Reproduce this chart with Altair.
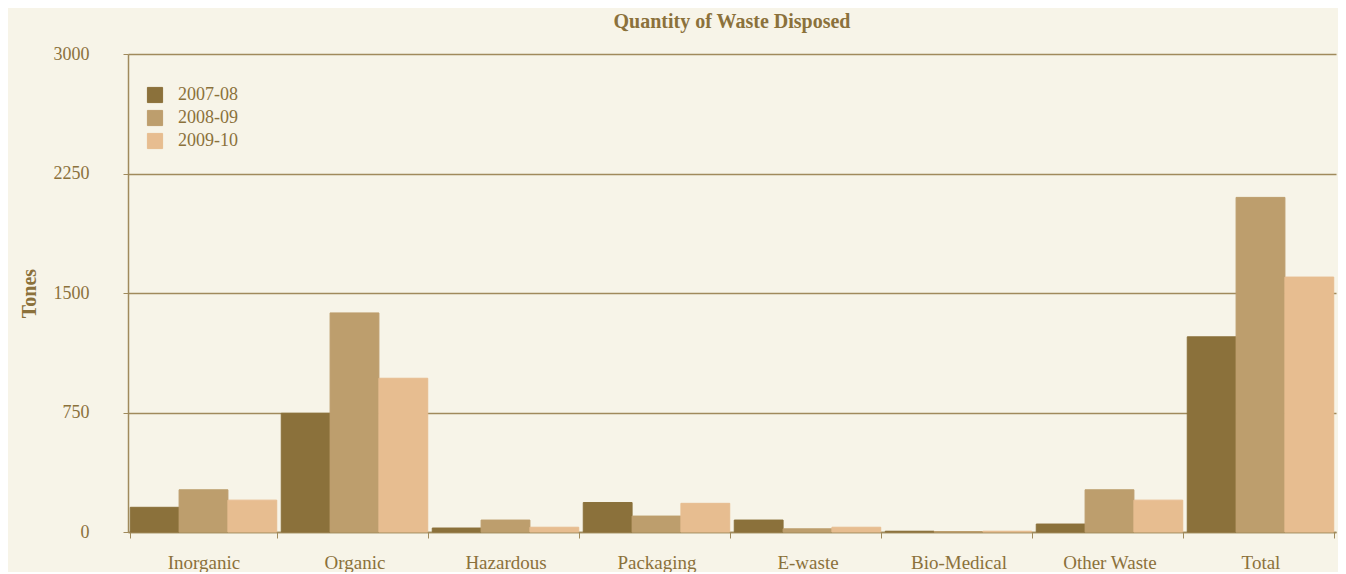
import altair as alt
import pandas as pd

categories = ["Inorganic", "Organic", "Hazardous", "Packaging", "E-waste",
              "Bio-Medical", "Other Waste", "Total"]
years = ["2007-08", "2008-09", "2009-10"]
v_2007_08 = [155, 745, 25, 185, 75, 5, 50, 1225]
v_2008_09 = [265, 1375, 75, 100, 20, 3, 265, 2100]
v_2009_10 = [200, 965, 30, 180, 30, 5, 200, 1600]
y_ticks = [0, 750, 1500, 2250, 3000]
colors = ["#8B713B", "#BD9E6D", "#E7BD90"]

rows = []
for yr, vals in zip(years, [v_2007_08, v_2008_09, v_2009_10]):
    for c, v in zip(categories, vals):
        rows.append({"category": c, "year": yr, "value": v})
df = pd.DataFrame(rows)

TEXT = "#8B713B"
GRID = "#A08A5C"
FONT = "Liberation Serif"

chart = alt.Chart(df).mark_bar(strokeWidth=1).encode(
    x=alt.X("category:N", sort=categories, title=None,
            scale=alt.Scale(paddingInner=0.03, paddingOuter=0.015),
            axis=alt.Axis(labelAngle=0, tickBand="extent", ticks=True, tickSize=6,
                          tickColor=GRID, domainColor=GRID, domainWidth=1.5,
                          labelPadding=15, labelFontSize=19, labelColor=TEXT,
                          labelFont=FONT, grid=False)),
    xOffset=alt.XOffset("year:N", sort=years),
    y=alt.Y("value:Q", scale=alt.Scale(domain=[0, 3000], nice=False),
            axis=alt.Axis(values=y_ticks, format="d", title="Tones", titleFont=FONT,
                          titleFontSize=20, titleFontWeight="bold", titleColor=TEXT,
                          titlePadding=14, labelFont=FONT, labelFontSize=18,
                          labelColor=TEXT, labelPadding=34, tickSize=5,
                          tickColor=GRID, domainColor=GRID, domainWidth=1.5,
                          grid=True, gridColor=GRID, gridWidth=1.5)),
    color=alt.Color("year:N", scale=alt.Scale(domain=years, range=colors),
                    legend=alt.Legend(title=None, orient="none", legendX=18, legendY=32,
                                      symbolType="square", symbolSize=230,
                                      symbolStrokeColor="#A88E5E", symbolStrokeWidth=1,
                                      labelFont=FONT, labelFontSize=18, labelColor=TEXT,
                                      labelOffset=14, rowPadding=3)),
    stroke=alt.Color("year:N", scale=alt.Scale(domain=years, range=colors), legend=None),
).properties(
    width=1208, height=478,
    title=alt.TitleParams("Quantity of Waste Disposed", font=FONT, fontSize=20,
                          fontWeight="bold", color=TEXT, anchor="middle", offset=13),
    padding={"left": 120, "top": 46, "right": 2, "bottom": 40},
    autosize="none",
).configure(background="#F7F4E8").configure_view(stroke=None)

chart.save("out.html", embed_options={"renderer": "svg", "actions": False})
